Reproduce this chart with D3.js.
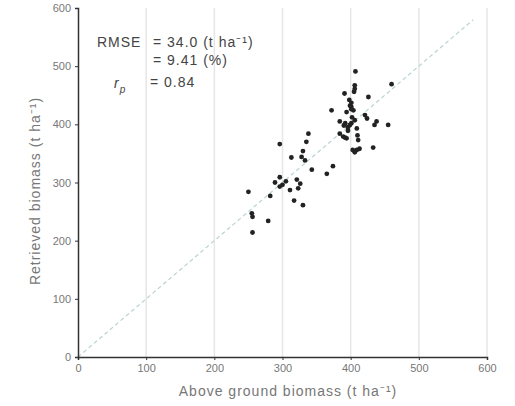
<!DOCTYPE html>
<html>
<head>
<meta charset="utf-8">
<script src="https://cdn.jsdelivr.net/npm/d3@7"></script>
<style>
  body { margin: 0; background: #fff; }
  text { font-family: "Liberation Sans", Arial, sans-serif; }
</style>
</head>
<body>
<svg id="chart" width="515" height="406"></svg>
<script>
// ground-truth vs retrieved biomass (t/ha)
const observed = [407, 460, 406, 405, 391, 426, 401, 401, 372, 394, 404, 421, 424, 384, 406, 438, 435, 455,
  399, 409, 384, 389, 394, 338, 335, 296, 411, 413, 409, 406, 433, 330, 328, 333, 313, 343, 374, 365, 296,
  296, 289, 321, 326, 323, 311, 250, 282, 317, 330, 255, 256, 279, 256, 398, 402, 396, 410, 392, 300, 305,
  406, 399, 401, 390, 396, 401, 392, 403];
const retrieved = [491, 469, 467, 456, 453, 447, 437, 430, 424, 421, 424, 416, 410, 405, 407, 405, 399, 399,
  399, 393, 384, 379, 376, 384, 370, 366, 373, 358, 356, 352, 360, 354, 344, 338, 343, 322, 328, 315, 309,
  293, 300, 305, 298, 290, 287, 284, 277, 269, 261, 247, 241, 234, 214, 442, 412, 389, 381, 402, 296, 302,
  461, 432, 426, 398, 395, 402, 377, 356];
const xTicks = [0, 100, 200, 300, 400, 500, 600];
const yTicks = [0, 100, 200, 300, 400, 500, 600];
const statLines = ["RMSE", "= 34.0 (t ha\u207B\u00B9)", "= 9.41 (%)", "= 0.84"];

const svg = d3.select("#chart");
const margin = { left: 78, right: 28, top: 8, bottom: 49 };
const W = 515, H = 406;

const x = d3.scaleLinear().domain([0, 600]).range([margin.left, W - margin.right]);
const y = d3.scaleLinear().domain([0, 600]).range([H - margin.bottom, margin.top]);

const textCol = "#777";

// vertical grid
svg.append("g")
  .selectAll("line")
  .data(xTicks.slice(1))
  .enter()
  .append("line")
  .attr("x1", d => x(d)).attr("x2", d => x(d))
  .attr("y1", y(0)).attr("y2", y(600))
  .attr("stroke", "#e6e6e6")
  .attr("stroke-width", 1.5);

// 1:1 line
svg.append("line")
  .attr("x1", x(0)).attr("y1", y(0))
  .attr("x2", x(580)).attr("y2", y(580))
  .attr("stroke", "#b9d3d3")
  .attr("stroke-width", 1.2)
  .attr("stroke-dasharray", "4,3");

// axes
const xAxis = svg.append("g")
  .attr("transform", `translate(0,${y(0)})`)
  .call(d3.axisBottom(x).tickValues(xTicks).tickSize(3).tickPadding(4));
const yAxis = svg.append("g")
  .attr("transform", `translate(${x(0)},0)`)
  .call(d3.axisLeft(y).tickValues(yTicks).tickSize(3).tickPadding(4));

[xAxis, yAxis].forEach(a => {
  a.select(".domain").attr("stroke", "#333").attr("stroke-width", 1.5);
  a.selectAll(".tick line").attr("stroke", "#333");
  a.selectAll(".tick text").attr("fill", textCol).style("font-size", "11px");
});

// points
svg.append("g")
  .selectAll("circle")
  .data(observed.map((d, i) => [d, retrieved[i]]))
  .enter()
  .append("circle")
  .attr("cx", d => x(d[0]))
  .attr("cy", d => y(d[1]))
  .attr("r", 2.4)
  .attr("fill", "#222");

// axis labels
svg.append("text")
  .attr("x", 288)
  .attr("y", 396)
  .attr("text-anchor", "middle")
  .attr("fill", textCol)
  .style("font-size", "14px")
  .style("letter-spacing", "1px")
  .text("Above ground biomass (t ha\u207B\u00B9)");

svg.append("text")
  .attr("transform", `translate(40,191) rotate(-90)`)
  .attr("text-anchor", "middle")
  .attr("fill", textCol)
  .style("font-size", "14px")
  .style("letter-spacing", "1px")
  .text("Retrieved biomass (t ha\u207B\u00B9)");

// stats box
const st = svg.append("g").attr("fill", "#444").style("font-size", "14px").style("letter-spacing", "1px");
st.append("text").attr("x", 97).attr("y", 47).text(statLines[0]);
st.append("text").attr("x", 153).attr("y", 47).text(statLines[1]);
st.append("text").attr("x", 153).attr("y", 65).text(statLines[2]);
const rp = st.append("text").attr("x", 114).attr("y", 88).style("font-style", "italic");
rp.append("tspan").text("r");
rp.append("tspan").attr("dy", 5).style("font-size", "10px").text("p");
st.append("text").attr("x", 150).attr("y", 87).text(statLines[3]);
</script>
</body>
</html>
